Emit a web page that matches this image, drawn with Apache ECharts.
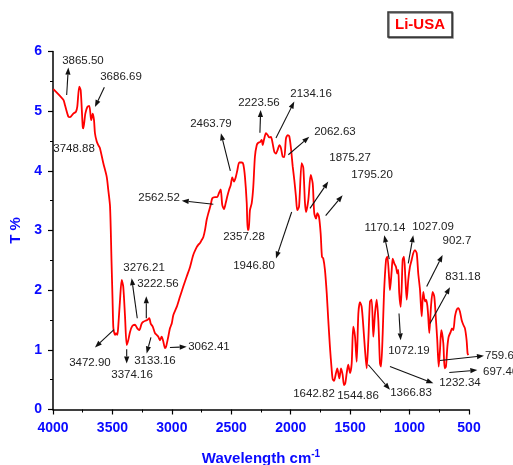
<!DOCTYPE html>
<html>
<head>
<meta charset="utf-8">
<script src="https://cdn.jsdelivr.net/npm/echarts@6/dist/echarts.min.js"></script>
<style>
  html, body { margin: 0; padding: 0; background: #fff; }
  #chart { width: 513px; height: 465px; }
</style>
</head>
<body>
<div id="chart"></div>
<script>
// wavenumber (cm-1)
var wavenumber = [3997,3913,3899,3871,3857,3829,3807,3796,3779,3767,3750,3745,3728,3711,3695,3683,3678,3666,3655,3647,
  3632,3619,3605,3577,3548,3535,3520,3508,3499,3493,3487,3478,3470,3459,3451,3436,3422,3409,3394,3380,
  3367,3352,3333,3310,3291,3274,3254,3240,3220,3207,3190,3178,3161,3142,3128,3114,3100,3086,3072,3058,
  3049,3030,3016,3001,2988,2959,2932,2904,2875,2847,2820,2791,2778,2763,2749,2735,2721,2707,2693,2673,
  2660,2637,2618,2603,2589,2576,2561,2547,2534,2519,2505,2492,2477,2463,2449,2433,2412,2399,2385,2370,
  2362,2354,2343,2328,2315,2301,2286,2273,2258,2244,2236,2225,2208,2194,2180,2166,2152,2138,2124,2110,
  2096,2082,2068,2054,2040,2025,2012,1998,1983,1970,1956,1945,1930,1908,1894,1880,1871,1852,1832,1815,
  1802,1787,1776,1762,1748,1737,1726,1712,1697,1684,1670,1655,1647,1636,1619,1608,1591,1577,1563,1552,
  1541,1529,1516,1501,1487,1474,1459,1445,1431,1417,1403,1389,1375,1361,1347,1333,1319,1305,1291,1277,
  1263,1249,1240,1226,1215,1198,1187,1171,1165,1150,1142,1129,1114,1103,1095,1087,1075,1066,1058,1047,
  1036,1024,1011,997,982,969,955,940,927,912,898,885,870,862,851,843,834,820,806,792,
  778,767,755,744,733,716,705,694,682,671,654,643,632,618,604,590,576,562,548,534,
  520,512,506];

// transmittance T %
var transmittance = [5.37,5.19,5.10,4.91,4.90,4.96,4.99,5.07,5.41,5.35,4.74,4.71,4.96,5.07,5.09,4.91,4.85,4.96,4.85,4.63,
  4.49,4.43,4.38,4.13,3.90,3.68,3.40,2.51,1.84,1.39,1.30,1.25,1.28,1.25,1.39,1.84,2.17,2.06,1.56,1.08,
  1.16,1.30,1.40,1.42,1.36,1.33,1.44,1.47,1.49,1.50,1.53,1.44,1.39,1.28,1.25,1.22,1.16,1.22,1.14,1.03,
  1.05,1.22,1.36,1.44,1.58,1.72,1.89,2.06,2.23,2.39,2.59,2.72,2.76,2.79,2.84,2.89,3.01,3.18,3.29,3.43,
  3.54,3.56,3.56,3.63,3.69,3.43,3.36,3.46,3.57,3.68,3.76,3.89,3.82,3.89,4.01,4.14,4.14,4.11,3.90,3.46,
  3.01,3.01,3.34,3.46,3.73,4.24,4.43,4.47,4.48,4.52,4.43,4.52,4.63,4.60,4.56,4.57,4.46,4.32,4.29,4.35,
  4.43,4.38,4.24,4.23,4.54,4.60,4.58,4.38,4.07,3.85,3.57,3.34,3.40,4.13,4.05,3.46,3.31,3.51,3.93,3.79,
  3.29,3.20,3.29,3.23,2.95,2.56,2.53,2.34,1.95,1.50,1.05,0.66,0.51,0.48,0.61,0.69,0.52,0.69,0.58,0.41,
  0.44,0.61,0.75,0.61,0.77,1.39,1.22,0.80,1.61,1.80,1.72,1.39,1.00,0.69,1.16,1.81,1.84,1.22,1.61,1.84,
  1.50,0.77,0.72,1.28,1.95,2.51,2.56,2.17,2.00,2.34,2.53,2.45,2.39,2.28,2.34,1.95,1.72,2.06,2.51,2.56,
  2.23,1.84,2.17,2.39,2.51,2.62,2.67,2.62,2.28,2.00,1.56,1.97,1.81,1.84,1.75,1.56,1.28,1.72,1.97,1.89,
  1.50,1.16,0.72,1.00,1.33,1.11,0.69,0.72,1.05,1.22,1.30,1.36,1.33,1.56,1.67,1.70,1.64,1.50,1.42,1.36,
  1.16,0.94,0.91];

var xTicks = [500, 4000, 500];   // min, max, step
var yTicks = [0, 6, 1];

// peak labels: text, label centre, arrow tail, arrow head (all in wavenumber / T)
var peakLabels = [
  { t: '3865.50', at: [3748, 5.84], from: [3885, 5.27], to: [3871, 5.73] },
  { t: '3686.69', at: [3428, 5.57], from: [3568, 5.40], to: [3647, 5.07] },
  { t: '3748.88', at: [3823, 4.37] },
  { t: '2463.79', at: [2671, 4.78], from: [2508, 4.00], to: [2587, 4.63] },
  { t: '2223.56', at: [2267, 5.14], from: [2259, 4.64], to: [2253, 5.02] },
  { t: '2134.16', at: [1829, 5.29], from: [2124, 4.55], to: [1970, 5.16] },
  { t: '2062.63', at: [1628, 4.65], from: [2020, 4.27], to: [1844, 4.57] },
  { t: '1875.27', at: [1501, 4.21], from: [1838, 3.37], to: [1684, 3.82] },
  { t: '1795.20', at: [1316, 3.93], from: [1706, 3.25], to: [1563, 3.59] },
  { t: '2562.52', at: [3108, 3.54], from: [2651, 3.44], to: [2917, 3.50] },
  { t: '2357.28', at: [2393, 2.89] },
  { t: '1946.80', at: [2309, 2.40], from: [1992, 3.31], to: [2124, 2.53] },
  { t: '1170.14', at: [1207, 3.04], from: [1171, 2.52], to: [1213, 2.92] },
  { t: '1027.09', at: [803, 3.06], from: [1011, 2.45], to: [969, 2.92] },
  { t: '902.7', at: [601, 2.82], from: [856, 2.06], to: [722, 2.59] },
  { t: '831.18', at: [551, 2.22], from: [828, 1.44], to: [660, 2.05] },
  { t: '1072.19', at: [1005, 0.98], from: [1089, 1.61], to: [1075, 1.16] },
  { t: '759.6', at: [244, 0.90], from: [744, 0.82], to: [374, 0.90] },
  { t: '697.46', at: [234, 0.63], from: [666, 0.62], to: [430, 0.66] },
  { t: '1232.34', at: [576, 0.44], from: [1165, 0.72], to: [800, 0.44] },
  { t: '1366.83', at: [988, 0.28], from: [1347, 0.75], to: [1165, 0.33] },
  { t: '1544.86', at: [1434, 0.23] },
  { t: '1642.82', at: [1804, 0.26] },
  { t: '3472.90', at: [3689, 0.78], from: [3487, 1.34], to: [3647, 1.04] },
  { t: '3374.16', at: [3335, 0.58], from: [3380, 1.01], to: [3380, 0.77] },
  { t: '3276.21', at: [3234, 2.37], from: [3291, 1.53], to: [3338, 2.20] },
  { t: '3222.56', at: [3117, 2.10], from: [3215, 1.53], to: [3215, 1.90] },
  { t: '3133.16', at: [3142, 0.81], from: [3176, 1.21], to: [3212, 0.94] },
  { t: '3062.41', at: [2688, 1.05], from: [3016, 1.04], to: [2875, 1.05] }
];

var blue = '#0a0aff';
var spectrum = [];
for (var i = 0; i < wavenumber.length; i++) {
  spectrum.push([wavenumber[i], transmittance[i]]);
}

var myChart = echarts.init(document.getElementById('chart'), null, { renderer: 'canvas' });

myChart.setOption({
  animation: false,
  backgroundColor: '#fff',
  textStyle: { fontFamily: 'Liberation Sans, Arial, sans-serif' },
  title: {
    text: 'Li-USA',
    left: 388,
    top: 12,
    padding: [5, 7],
    borderColor: '#333',
    borderWidth: 1.5,
    backgroundColor: '#fff',
    shadowColor: 'rgba(0,0,0,0.5)',
    shadowOffsetX: 1,
    shadowOffsetY: 1,
    textStyle: { color: '#ff0000', fontSize: 15, fontWeight: 'bold', fontFamily: 'Liberation Sans, Arial, sans-serif' }
  },
  grid: { left: 53, right: 44, top: 51.5, bottom: 55.5, outerBoundsMode: 'none', containLabel: false },
  xAxis: {
    type: 'value',
    inverse: true,
    min: xTicks[0],
    max: xTicks[1],
    interval: xTicks[2],
    name: '{a|Wavelength cm}{s|-1}',
    nameLocation: 'middle',
    nameGap: 40,
    nameTextStyle: {
      rich: {
        a: { color: blue, fontSize: 15, fontWeight: 'bold', fontFamily: 'Liberation Sans, Arial, sans-serif' },
        s: { color: blue, fontSize: 10, fontWeight: 'bold', verticalAlign: 'top', padding: [0, 0, 8, 0], fontFamily: 'Liberation Sans, Arial, sans-serif' }
      }
    },
    axisLine: { lineStyle: { color: '#000', width: 1.5 } },
    axisTick: { inside: false, length: 5, lineStyle: { color: '#000', width: 1.2 } },
    minorTick: { show: true, splitNumber: 2, length: 3, lineStyle: { color: '#000', width: 1 } },
    axisLabel: {
      color: blue, fontSize: 14, fontWeight: 'bold', margin: 12,
      formatter: function (v) { return String(v); }
    },
    splitLine: { show: false }
  },
  yAxis: {
    type: 'value',
    min: yTicks[0],
    max: yTicks[1],
    interval: yTicks[2],
    name: 'T %',
    nameLocation: 'middle',
    nameGap: 23,
    nameTextStyle: { color: blue, fontSize: 15, fontWeight: 'bold' },
    axisLine: { show: true, lineStyle: { color: '#000', width: 1.5 } },
    axisTick: { show: true, inside: false, length: 5, lineStyle: { color: '#000', width: 1.2 } },
    minorTick: { show: true, splitNumber: 2, length: 3, lineStyle: { color: '#000', width: 1 } },
    axisLabel: { color: blue, fontSize: 14, fontWeight: 'bold', margin: 11 },
    splitLine: { show: false }
  },
  series: [{
    name: 'Li-USA',
    type: 'line',
    data: spectrum,
    showSymbol: false,
    smooth: 0.25,
    clip: true,
    lineStyle: { color: '#ff0000', width: 1.8 }
  }]
});

// arrows and peak numbers, placed from data values through the axes
function drawLabels() {
  var els = [];
  for (var k = 0; k < peakLabels.length; k++) {
    var p = peakLabels[k];
    var c = myChart.convertToPixel({ gridIndex: 0 }, p.at);
    els.push({
      type: 'text',
      x: c[0],
      y: c[1],
      z: 10,
      style: {
        text: p.t,
        fill: '#222',
        fontSize: 11.5,
        fontFamily: 'Liberation Sans, Arial, sans-serif',
        align: 'center',
        verticalAlign: 'middle'
      }
    });
    if (p.from) {
      var a = myChart.convertToPixel({ gridIndex: 0 }, p.from);
      var b = myChart.convertToPixel({ gridIndex: 0 }, p.to);
      var dx = b[0] - a[0], dy = b[1] - a[1];
      var len = Math.sqrt(dx * dx + dy * dy);
      var ux = dx / len, uy = dy / len;
      var hl = 7, hw = 2.6;
      var bx = b[0] - ux * hl, by = b[1] - uy * hl;
      els.push({
        type: 'line',
        z: 10,
        shape: { x1: a[0], y1: a[1], x2: bx, y2: by },
        style: { stroke: '#111', lineWidth: 1.1 }
      });
      els.push({
        type: 'polygon',
        z: 10,
        shape: { points: [[b[0], b[1]], [bx - uy * hw, by + ux * hw], [bx + uy * hw, by - ux * hw]] },
        style: { fill: '#111' }
      });
    }
  }
  myChart.setOption({ graphic: els });
}
drawLabels();

window.addEventListener('resize', function () {
  myChart.resize();
  drawLabels();
});
</script>
</body>
</html>
